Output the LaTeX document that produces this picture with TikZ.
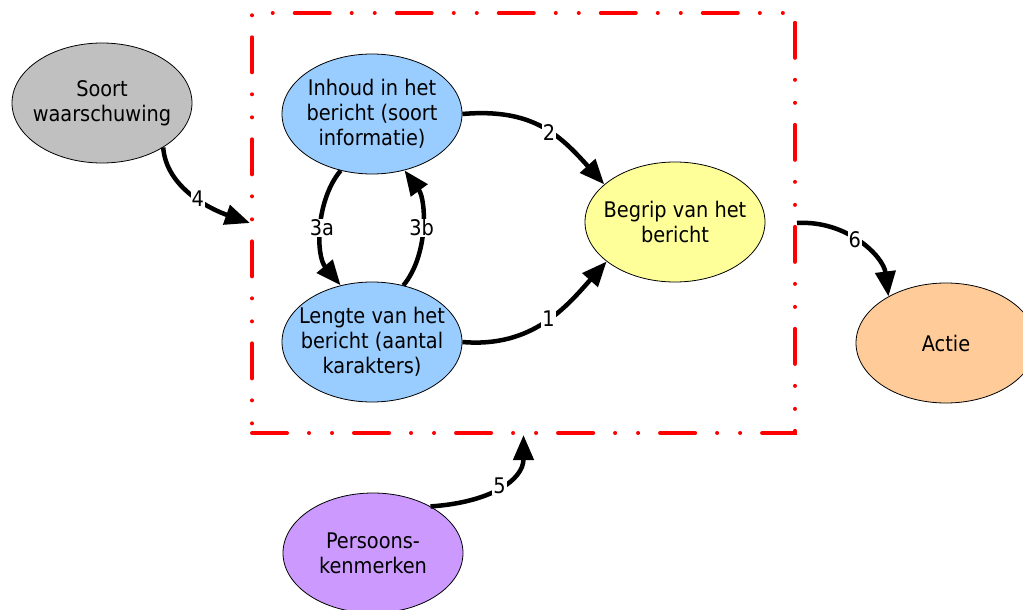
\documentclass[tikz,border=0pt]{standalone}
\usepackage{fontspec}
\setmainfont{DejaVu Sans Condensed}
\usetikzlibrary{arrows.meta,shapes.geometric}
\definecolor{cgray}{HTML}{C0C0C0}
\definecolor{cblue}{HTML}{99CCFF}
\definecolor{cyel}{HTML}{FFFF99}
\definecolor{corange}{HTML}{FFCC99}
\definecolor{cpurple}{HTML}{CC99FF}
\definecolor{cred}{HTML}{FF0000}
\tikzset{
  bubble/.style={ellipse, draw=black, line width=0.8pt, minimum width=180pt, minimum height=120pt, inner sep=0pt},
  txt/.style={align=center, inner sep=0pt, font=\fontsize{21.5}{25}\selectfont},
  conn/.style={line width=4.5pt, -{Triangle[length=25pt,width=20pt]}},
  lbl/.style={fill=white, inner sep=1pt, font=\fontsize{21.5}{24}\selectfont},
  frame/.style={draw=cred, line width=4pt, line cap=round, dash pattern=on 35pt off 22pt on 0.01pt off 23pt on 0.01pt off 22pt, minimum width=543pt, minimum height=420pt, inner sep=0pt}
}
\begin{document}
\begin{tikzpicture}[x=1pt,y=-1pt]
\useasboundingbox (0,0) rectangle (1023,610);
\begin{scope}
\clip (0,0) rectangle (1023,610);
\node[frame] (box) at (523.5,223) {};
\node[bubble, fill=cgray] (soort) at (102,103) {};
\node[txt] (soortt) at (soort) {Soort\\waarschuwing};
\node[bubble, fill=cblue] (inh) at (372,114) {};
\node[txt] (inht) at (inh) {Inhoud in het\\bericht (soort\\informatie)};
\node[bubble, fill=cblue] (len) at (372,342) {};
\node[txt] (lent) at (len) {Lengte van het\\bericht (aantal\\karakters)};
\node[bubble, fill=cyel] (beg) at (675,222) {};
\node[txt] (begt) at (beg) {Begrip van het\\bericht};
\node[bubble, fill=corange] (act) at (946,343) {};
\node[txt] (actt) at (act) {Actie};
\node[bubble, fill=cpurple] (pers) at (373,553) {};
\node[txt] (perst) at (pers) {Persoons-\\kenmerken};
\end{scope}
\draw[conn] (soort.-36) .. controls +(3,40) and +(-40,-14) .. (box.west) node[lbl, pos=0.55] {4};
\draw[conn] (inh.east) .. controls +(70,-6) and +(-45,-50) .. (beg.152) node[lbl, pos=0.55] {2};
\draw[conn] (len.east) .. controls +(70,6) and +(-40,45) .. (beg.210) node[lbl, pos=0.52] {1};
\draw[conn] (inh.241) .. controls +(-25,30) and +(-25,-30) .. (len.119) node[lbl, pos=0.5] {3a};
\draw[conn] (len.61) .. controls +(25,-30) and +(22,30) .. (inh.300) node[lbl, pos=0.5] {3b};
\draw[conn] (box.east) .. controls +(50,-3) and +(-5,-40) .. (act.141) node[lbl, pos=0.45] {6};
\draw[conn] (pers.39) .. controls +(60,-4) and +(0,45) .. (box.south) node[lbl, pos=0.5] {5};
\end{tikzpicture}
\end{document}
